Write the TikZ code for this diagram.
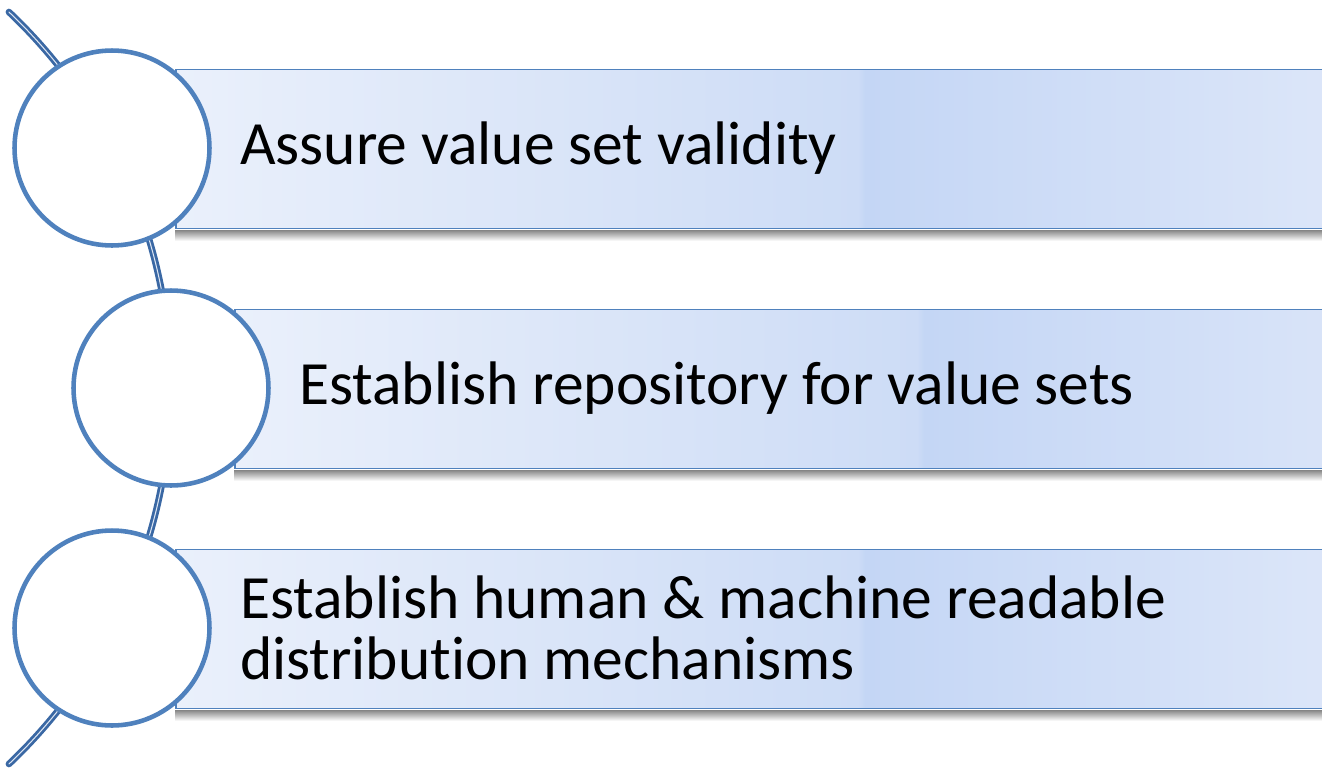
\documentclass[tikz,border=0pt]{standalone}
\usepackage{fontspec}
\setmainfont{Carlito}[Ligatures={NoCommon,NoDiscretionary,NoRare}]
\usetikzlibrary{positioning}
\definecolor{ringblue}{HTML}{4F81BD}
\definecolor{arcblue}{HTML}{3A68A4}
\definecolor{arclight}{HTML}{DCE5F2}
\definecolor{barL}{HTML}{EAF0FB}
\definecolor{barM}{HTML}{CDDCF6}
\definecolor{barN}{HTML}{C4D6F5}
\definecolor{barR}{HTML}{DCE6F9}
\definecolor{shadowgray}{HTML}{8A8A8A}
\pgfdeclarehorizontalshading{bandshade}{100bp}{color(0bp)=(barL); color(25bp)=(barL); color(54.4bp)=(barM); color(54.7bp)=(barN); color(75bp)=(barR); color(100bp)=(barR)}
\tikzset{
  ring/.style={circle, draw=ringblue, line width=2.6pt, fill=white, minimum size=3.9cm, inner sep=0pt},
  band/.style={rectangle, draw=ringblue, line width=1.1pt, anchor=west,
    minimum width=23.2cm, minimum height=3.18cm, inner sep=0pt, shading=bandshade},
  bandshadow/.style={top color=shadowgray, bottom color=white},
  itemtext/.style={inner sep=0pt, align=left, font=\fontsize{35}{35}\selectfont}
}
\begin{document}
\begin{tikzpicture}[x=0.02cm, y=-0.02cm]
\useasboundingbox (0,0) rectangle (1322,768);
% the curved spine behind the rings
\coordinate (hub) at (-346.6,388);
\draw[draw=arcblue, line width=1.6pt, double=arclight, double distance=0.6pt, line cap=round]
  (hub) ++(46.6:10.352cm) arc[start angle=46.6, end angle=-46.6, radius=10.352cm];
% bands with their shadows
\node[band] (b1) at (175,149) {};
\node[band] (b2) at (234,389) {};
\node[band] (b3) at (175,629) {};
\foreach \b in {b1,b2,b3}
  \shade[bandshadow] ([yshift=-0.55pt]\b.south west) rectangle ([yshift=-6.5pt]\b.south east);
% rings
\node[ring] (c1) at (112,148) {};
\node[ring] (c2) at (171,388) {};
\node[ring] (c3) at (112,628) {};
% labels
\node[itemtext, right=0.56cm of c1] (t1) {Assure value set validity};
\node[itemtext, right=0.56cm of c2] (t2) {Establish repository for value sets};
\node[itemtext, right=0.56cm of c3] (t3) {Establish human \& machine readable\\distribution mechanisms};
\end{tikzpicture}
\end{document}
